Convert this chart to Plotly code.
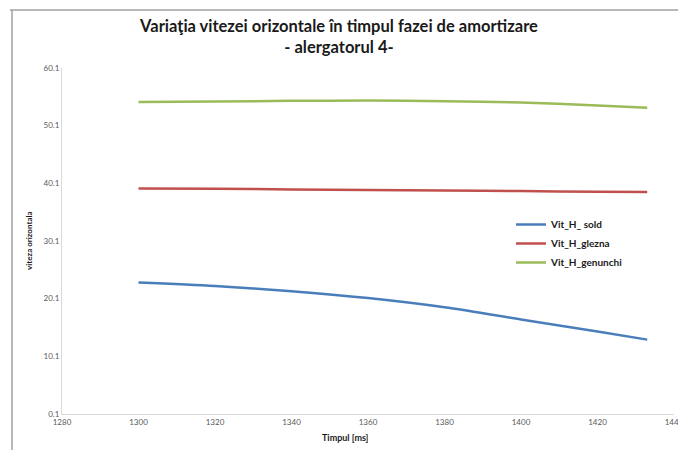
import plotly.graph_objects as go

timp = [1300, 1320, 1340, 1360, 1380, 1400, 1420, 1433]
vit_sold = [22.9, 22.3, 21.4, 20.2, 18.6, 16.5, 14.4, 13.0]
vit_glezna = [39.2, 39.15, 39.05, 38.95, 38.85, 38.75, 38.65, 38.6]
vit_genunchi = [54.2, 54.3, 54.4, 54.45, 54.35, 54.1, 53.6, 53.2]

x_ticks = [1280, 1300, 1320, 1340, 1360, 1380, 1400, 1420, 1440]
y_ticks = [0.1, 10.1, 20.1, 30.1, 40.1, 50.1, 60.1]
y_ticktext = ["0.1", "10.1", "20.1", "30.1", "40.1", "50.1", "60.1"]

series = [
    ("Vit_H_ sold", vit_sold, "#4A7EBB"),
    ("Vit_H_glezna", vit_glezna, "#C0504D"),
    ("Vit_H_genunchi", vit_genunchi, "#9BBB59"),
]

fig = go.Figure()
for name, vals, col in series:
    fig.add_trace(go.Scatter(x=timp, y=vals, name="<b>" + name + "</b>", mode="lines",
                             line=dict(color=col, width=2.5, shape="spline", smoothing=0.8)))

L, R, T, B = 62, 674, 68, 414
W, H = 678, 450
pw, ph = R - L, B - T

def px(xp):
    return (xp - L) / pw

def py(yp):
    return (B - yp) / ph

fig.update_layout(
    width=W, height=H,
    margin=dict(l=L, r=W - R, t=T, b=H - B, autoexpand=False),
    paper_bgcolor="white", plot_bgcolor="white",
    font=dict(family="Lato, Open Sans, sans-serif", color="#595959"),
    title=dict(text="<b>Variaţia vitezei orizontale în timpul fazei de amortizare<br>- alergatorul 4-</b>",
               x=0.5, xanchor="center", y=1 - 32 / H, yanchor="top",
               font=dict(size=16.5, color="#1A1A1A", family="Lato, Open Sans, sans-serif")),
    xaxis=dict(range=[1280, 1440], tickvals=x_ticks, showgrid=False, zeroline=False,
               showline=True, linecolor="#D9D9D9", linewidth=1, ticks="",
               tickfont=dict(size=8, color="#595959"), automargin=False,
               ticklabeloverflow="allow"),
    yaxis=dict(range=[0.1, 60.1], tickvals=y_ticks, ticktext=y_ticktext, showgrid=False,
               zeroline=False, showline=True, linecolor="#D9D9D9", linewidth=1, ticks="",
               tickfont=dict(size=8, color="#595959"), automargin=False),
    legend=dict(x=px(511), y=py(210), xanchor="left", yanchor="top",
                bgcolor="rgba(0,0,0,0)", font=dict(size=10, color="#1A1A1A"),
                tracegroupgap=2),
    showlegend=True,
    annotations=[
        dict(text="<b>Timpul [ms]</b>", xref="paper", yref="paper", x=px(345), y=py(437),
             xanchor="center", yanchor="middle", showarrow=False,
             font=dict(size=9, color="#1A1A1A")),
        dict(text="<b>viteza orizontala</b>", xref="paper", yref="paper", x=px(29), y=py(241),
             xanchor="center", yanchor="middle", showarrow=False, textangle=-90,
             font=dict(size=8, color="#1A1A1A")),
    ],
    shapes=[
        dict(type="line", xref="paper", yref="paper", x0=px(10), x1=px(700), y0=py(10), y1=py(10),
             line=dict(color="#A0A0A0", width=1.5)),
        dict(type="line", xref="paper", yref="paper", x0=px(12), x1=px(12), y0=py(10), y1=py(470),
             line=dict(color="#A0A0A0", width=1.5)),
    ],
)

fig.write_html("out.html", config={"displayModeBar": False},
               post_script="document.body.style.margin='0';document.body.style.overflow='hidden';")
